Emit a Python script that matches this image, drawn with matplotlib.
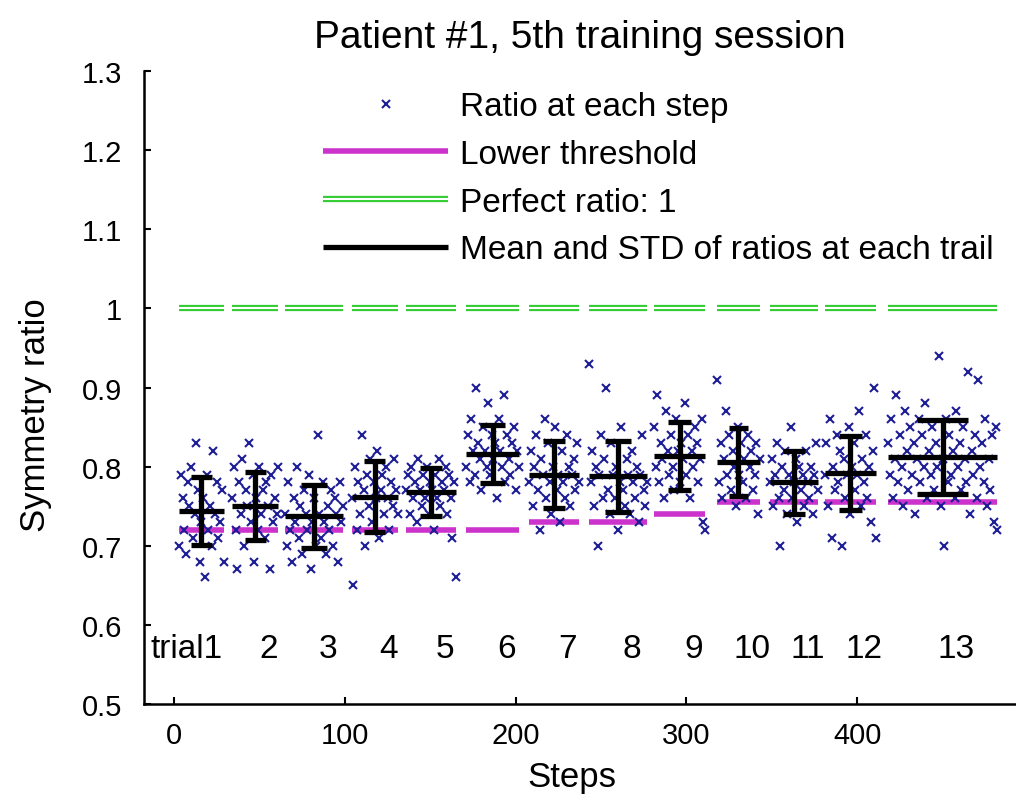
import numpy as np
import matplotlib
matplotlib.use("Agg")
import matplotlib.pyplot as plt
from matplotlib.legend_handler import HandlerTuple
from matplotlib.ticker import FuncFormatter

plt.rcParams['font.family'] = ['Liberation Sans', 'DejaVu Sans']

# ---------------- data ----------------
trial_labels = ["trial1", "2", "3", "4", "5", "6", "7", "8", "9", "10", "11", "12", "13"]
trial_start = [3, 34, 65, 104, 136, 171, 208, 243, 281, 318, 349, 381, 418]

r1 = [0.70,0.79,0.76,0.72,0.69,0.78,0.75,0.80,0.71,0.74,0.83,0.77,0.68,0.73,0.76,0.66,0.79,0.72,0.75,0.70,0.82,0.74,0.78,0.71,0.73,0.77,0.68]
r2 = [0.76,0.80,0.72,0.67,0.78,0.74,0.81,0.70,0.77,0.75,0.83,0.73,0.79,0.68,0.76,0.72,0.80,0.74,0.77,0.71,0.78,0.75,0.67,0.79,0.73,0.76,0.74,0.80]
r3 = [0.74,0.70,0.78,0.72,0.68,0.76,0.73,0.80,0.71,0.75,0.69,0.77,0.74,0.72,0.79,0.67,0.73,0.76,0.70,0.84,0.74,0.71,0.78,0.73,0.69,0.75,0.72,0.77,0.70,0.76,0.74,0.68,0.78,0.73,0.75]
r4 = [0.76,0.65,0.80,0.72,0.78,0.74,0.84,0.77,0.70,0.79,0.75,0.81,0.73,0.78,0.76,0.82,0.71,0.77,0.79,0.74,0.80,0.76,0.72,0.78,0.75,0.81,0.77,0.74]
r5 = [0.77,0.79,0.74,0.80,0.76,0.78,0.73,0.81,0.77,0.75,0.79,0.76,0.80,0.74,0.78,0.77,0.72,0.79,0.76,0.81,0.75,0.78,0.77,0.80,0.74,0.79,0.76,0.71,0.78,0.66]
r6 = [0.80,0.84,0.78,0.86,0.82,0.79,0.90,0.83,0.81,0.77,0.85,0.82,0.80,0.88,0.79,0.84,0.81,0.83,0.76,0.86,0.82,0.80,0.89,0.78,0.84,0.81,0.79,0.83,0.85,0.77,0.82,0.80]
r7 = [0.78,0.82,0.75,0.80,0.84,0.77,0.72,0.81,0.79,0.86,0.76,0.83,0.78,0.74,0.80,0.85,0.77,0.79,0.73,0.82,0.78,0.76,0.84,0.80,0.75,0.79,0.81,0.77,0.83,0.78]
r8 = [0.93,0.78,0.82,0.75,0.80,0.70,0.79,0.84,0.76,0.81,0.90,0.77,0.74,0.83,0.79,0.76,0.80,0.72,0.78,0.85,0.77,0.75,0.81,0.79,0.74,0.82,0.78,0.76,0.80,0.73,0.79,0.84,0.77,0.75,0.78]
r9 = [0.85,0.80,0.89,0.78,0.83,0.81,0.76,0.87,0.82,0.79,0.84,0.80,0.77,0.86,0.82,0.78,0.83,0.81,0.88,0.79,0.84,0.76,0.82,0.80,0.85,0.83,0.78,0.81,0.86,0.73,0.72]
r10 = [0.91,0.78,0.83,0.76,0.81,0.87,0.79,0.84,0.77,0.82,0.80,0.75,0.85,0.79,0.83,0.78,0.81,0.76,0.84,0.80,0.82,0.77,0.79,0.83,0.74,0.81]
r11 = [0.78,0.81,0.75,0.79,0.83,0.76,0.70,0.80,0.77,0.82,0.74,0.79,0.85,0.76,0.78,0.81,0.73,0.80,0.77,0.79,0.75,0.82,0.78,0.76,0.80,0.74,0.79,0.83,0.77]
r12 = [0.79,0.83,0.75,0.86,0.71,0.80,0.77,0.84,0.78,0.82,0.70,0.81,0.76,0.79,0.85,0.74,0.80,0.83,0.77,0.79,0.87,0.75,0.81,0.78,0.84,0.76,0.80,0.73,0.82,0.90,0.71]
r13 = [0.83,0.79,0.86,0.76,0.81,0.89,0.78,0.84,0.80,0.75,
       0.87,0.82,0.77,0.85,0.79,0.83,0.74,0.81,0.86,0.78,
       0.84,0.80,0.88,0.76,0.82,0.79,0.85,0.77,0.83,0.80,
       0.94,0.75,0.81,0.70,0.86,0.78,0.84,0.79,0.82,0.76,
       0.87,0.80,0.83,0.77,0.85,0.81,0.78,0.92,0.74,0.82,
       0.79,0.84,0.76,0.91,0.80,0.83,0.78,0.86,0.75,0.81,
       0.77,0.84,0.73,0.85,0.72]
ratios = [r1, r2, r3, r4, r5, r6, r7, r8, r9, r10, r11, r12, r13]

lower_threshold = [0.72, 0.72, 0.72, 0.72, 0.72, 0.72, 0.73, 0.73, 0.74, 0.755, 0.755, 0.755, 0.755]
trial_mean = [0.744, 0.750, 0.737, 0.762, 0.768, 0.816, 0.790, 0.788, 0.814, 0.806, 0.780, 0.792, 0.812]
trial_std = [0.043, 0.043, 0.040, 0.045, 0.030, 0.037, 0.042, 0.045, 0.043, 0.043, 0.040, 0.047, 0.047]
perfect_ratio = 1.0

# ---------------- figure ----------------
fig = plt.figure(figsize=(10.16, 8.03), dpi=100)
ax = fig.add_axes([144/1016, 1 - 705/803, 1 - 144/1016, (705 - 72)/803])

blue = '#1e1e96'
magenta = '#cc33cc'
green = '#33cc33'

h_pts = h_low = h_green = h_green2 = h_mean = None
for i, vals in enumerate(ratios):
    xs = np.arange(trial_start[i], trial_start[i] + len(vals))
    x0, x1 = xs[0], xs[-1]
    xc = 0.5 * (x0 + x1)
    span = x1 - x0
    h_pts, = ax.plot(xs, vals, 'x', color=blue, ms=6, mew=1.5, zorder=3, linestyle='none')
    h_low, = ax.plot([x0, x1], [lower_threshold[i]] * 2, color=magenta, lw=4, zorder=2,
                     solid_capstyle='butt')
    h_green, = ax.plot([x0, x1], [perfect_ratio] * 2, color=green, lw=4.5, zorder=2,
                       solid_capstyle='butt')
    h_green2, = ax.plot([x0, x1], [perfect_ratio] * 2, color='white', lw=1.5, zorder=2.1,
                        solid_capstyle='butt')
    m, s = trial_mean[i], trial_std[i]
    h_mean, = ax.plot([x0, x1], [m, m], color='black', lw=3.8, zorder=4, solid_capstyle='butt')
    ax.plot([xc, xc], [m - s, m + s], color='black', lw=3.8, zorder=4, solid_capstyle='butt')
    cw = 0.23 * span
    ax.plot([xc - cw, xc + cw], [m + s, m + s], color='black', lw=3.8, zorder=4, solid_capstyle='butt')
    ax.plot([xc - cw, xc + cw], [m - s, m - s], color='black', lw=3.8, zorder=4, solid_capstyle='butt')
    # trial label
    if i == 0:
        ax.text(-14, 0.57, trial_labels[i], fontsize=24, ha='left', va='center')
    else:
        ax.text(xc + 8, 0.57, trial_labels[i], fontsize=24, ha='center', va='center')

ax.set_xlim(-17.6, 493)
ax.set_ylim(0.5, 1.3)
ax.set_xticks([0, 100, 200, 300, 400])
ax.set_yticks(np.arange(0.5, 1.31, 0.1))
ax.yaxis.set_major_formatter(FuncFormatter(lambda v, p: '%g' % round(v, 2)))
ax.tick_params(direction='in', length=5, width=1.5, labelsize=21, pad=16)
ax.tick_params(axis='x', pad=12)
for side in ('top', 'right'):
    ax.spines[side].set_visible(False)
for side in ('left', 'bottom'):
    ax.spines[side].set_linewidth(1.8)

ax.set_xlabel('Steps', fontsize=25)
ax.xaxis.set_label_coords((572 - 144) / 872, (705 - 761) / 633)
ax.set_ylabel('Symmetry ratio', fontsize=25)
ax.yaxis.set_label_coords((52 - 144) / 872, (705 - 415) / 633)
ax.set_title('Patient #1, 5th training session', fontsize=28, pad=17)

leg = ax.legend([h_pts, h_low, (h_green, h_green2), h_mean],
                ['Ratio at each step', 'Lower threshold', 'Perfect ratio: 1',
                 'Mean and STD of ratios at each trail'],
                handler_map={tuple: HandlerTuple(ndivide=1, pad=0)},
                loc='upper left', bbox_to_anchor=(310/1016, 1 - 79/803),
                bbox_transform=fig.transFigure, frameon=False, fontsize=24,
                handlelength=3.75, handletextpad=0.36, labelspacing=0.50, numpoints=1,
                borderaxespad=0)

fig.savefig('out.png', dpi=100)
